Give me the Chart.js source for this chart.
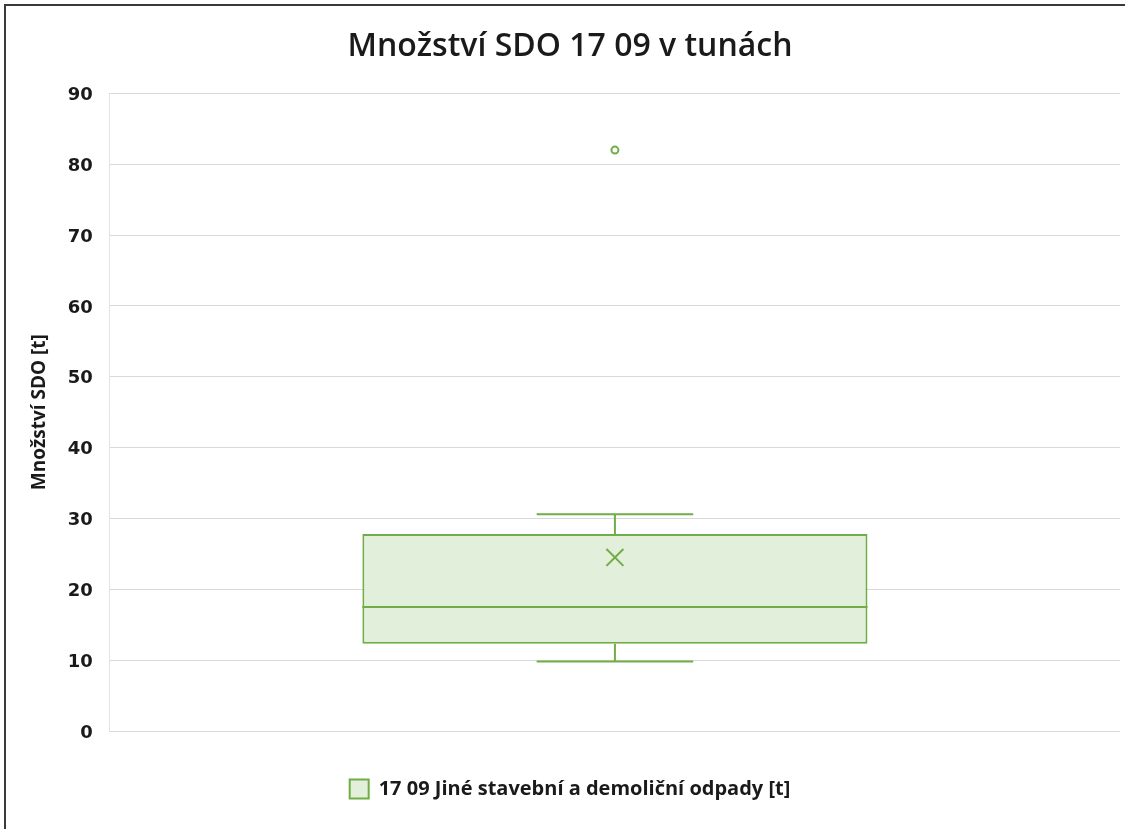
<!DOCTYPE html>
<html>
<head>
<meta charset="utf-8">
<script src="https://cdn.jsdelivr.net/npm/chart.js@4/dist/chart.umd.min.js"></script>
<style>
  html, body { margin: 0; padding: 0; background: #ffffff; }
  #wrap { position: absolute; left: 0; top: 0; width: 1125px; height: 829px; overflow: hidden; background: #fff; }
  #frameTop { position: absolute; left: 5px; top: 4px; width: 1120px; height: 2px; background: #3a3a3a; z-index: 2; }
  #frameLeft { position: absolute; left: 4px; top: 4px; width: 2px; height: 825px; background: #3a3a3a; z-index: 2; }
  #c { position: absolute; left: 6px; top: 6px; }
</style>
</head>
<body>
<div id="wrap">
  <div id="frameTop"></div>
  <div id="frameLeft"></div>
  <canvas id="c" width="1128" height="823"></canvas>
</div>
<script>
// ---- data ----
const chartTitle = 'Množství SDO 17 09 v tunách';
const yAxisTitle = 'Množství SDO [t]';
const categories = ['17 09 Jiné stavební a demoliční odpady [t]'];
const whiskerMin = [9.8];
const q1Values = [12.3];
const medianValues = [17.5];
const meanValues = [24.5];
const q3Values = [27.8];
const whiskerMax = [30.6];
const outlierValues = [[82]];
const yTicks = [0, 10, 20, 30, 40, 50, 60, 70, 80, 90];

const green = '#70ad47';
const lightGreen = '#e2efda';

const boxPlugin = {
  id: 'boxWhiskers',
  afterDatasetsDraw(chart) {
    const meta = chart.getDatasetMeta(0);
    const y = chart.scales.y;
    const ctx = chart.ctx;
    ctx.save();
    ctx.strokeStyle = green;
    ctx.lineWidth = 2;
    meta.data.forEach((bar, i) => {
      const cx = bar.x;
      const half = bar.width / 2;
      const capHalf = bar.width * 0.155;
      const yMin = y.getPixelForValue(whiskerMin[i]);
      const yQ1 = y.getPixelForValue(q1Values[i]);
      const yMed = y.getPixelForValue(medianValues[i]);
      const yQ3 = y.getPixelForValue(q3Values[i]);
      const yMax = y.getPixelForValue(whiskerMax[i]);
      ctx.beginPath();
      ctx.moveTo(cx, yQ3); ctx.lineTo(cx, yMax);
      ctx.moveTo(cx - capHalf, yMax); ctx.lineTo(cx + capHalf, yMax);
      ctx.moveTo(cx, yQ1); ctx.lineTo(cx, yMin);
      ctx.moveTo(cx - capHalf, yMin); ctx.lineTo(cx + capHalf, yMin);
      ctx.moveTo(cx - half, yMed); ctx.lineTo(cx + half, yMed);
      ctx.stroke();
    });
    ctx.restore();
  }
};

new Chart(document.getElementById('c'), {
  type: 'bar',
  data: {
    labels: categories,
    datasets: [
      {
        label: categories[0],
        data: categories.map((_, i) => [q1Values[i], q3Values[i]]),
        backgroundColor: lightGreen,
        borderColor: green,
        borderWidth: 2,
        borderSkipped: false,
        categoryPercentage: 0.5,
        barPercentage: 1.0,
        order: 3
      },
      {
        type: 'line',
        label: 'mean',
        data: meanValues,
        showLine: false,
        pointStyle: 'crossRot',
        pointRadius: 12,
        pointBorderColor: green,
        pointBorderWidth: 2,
        pointBackgroundColor: green,
        order: 1
      },
      {
        type: 'line',
        label: 'outliers',
        data: outlierValues.flatMap((arr, i) => arr.map(v => ({ x: categories[i], y: v }))),
        showLine: false,
        pointStyle: 'circle',
        pointRadius: 3.5,
        pointBorderColor: green,
        pointBorderWidth: 2,
        pointBackgroundColor: '#ffffff',
        order: 2
      }
    ]
  },
  options: {
    responsive: false,
    animation: false,
    layout: { padding: { left: 0, right: 0, top: 0, bottom: 20 } },
    plugins: {
      title: {
        display: true,
        text: chartTitle,
        color: '#1a1a1a',
        font: { family: 'Open Sans', size: 32, weight: '600' },
        padding: { top: 22, bottom: 27 }
      },
      legend: {
        position: 'bottom',
        labels: {
          filter: (item) => item.datasetIndex === 0,
          boxWidth: 19,
          boxHeight: 19,
          color: '#1a1a1a',
          font: { family: 'Open Sans', size: 20, weight: 'bold' },
          padding: 10
        }
      },
      tooltip: { enabled: false }
    },
    scales: {
      x: {
        display: true,
        grid: { display: false, drawTicks: false },
        border: { display: false },
        ticks: { display: false },
        title: {
          display: true,
          text: ' ',
          font: { size: 10 },
          padding: { top: 0, bottom: 26 }
        }
      },
      y: {
        min: 0,
        max: 90,
        afterBuildTicks: (scale) => { scale.ticks = yTicks.map(v => ({ value: v })); },
        grid: { color: '#d9d9d9', lineWidth: 1, drawTicks: false },
        border: { display: true, color: '#e3e3e3' },
        ticks: {
          color: '#1a1a1a',
          font: { family: 'DejaVu Sans', size: 18, weight: 'bold' },
          padding: 17,
          labelOffset: 2
        },
        title: {
          display: true,
          text: yAxisTitle,
          color: '#1a1a1a',
          font: { family: 'Open Sans', size: 19, weight: 'bold' },
          padding: { top: 22, bottom: 0 }
        }
      }
    }
  },
  plugins: [boxPlugin]
});
</script>
</body>
</html>
